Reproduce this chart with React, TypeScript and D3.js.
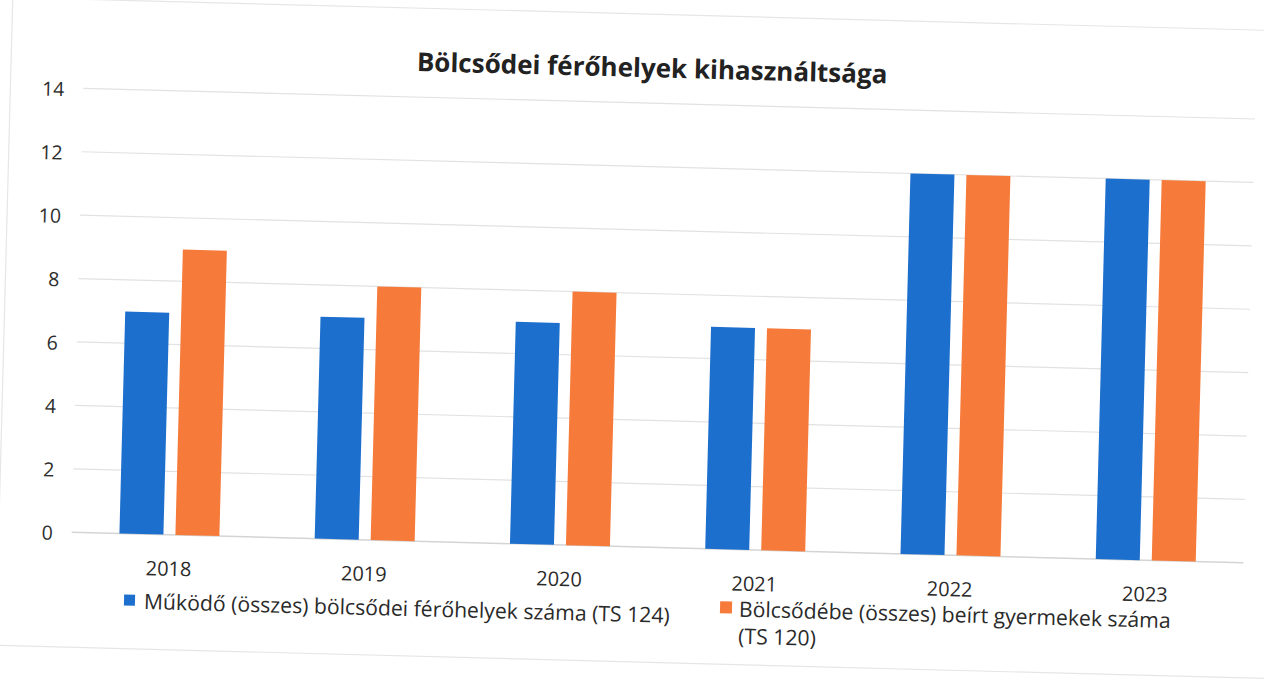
import React from 'react';
import * as d3 from 'd3';

const years = ['2018', '2019', '2020', '2021', '2022', '2023'];
const placesValues = [7, 7, 7, 7, 12, 12];
const enrolledValues = [9, 8, 8, 7, 12, 12];
const yTicks = [0, 2, 4, 6, 8, 10, 12, 14];
const seriesKeys = ['places', 'enrolled'];
const seriesNames = [
  'Működő (összes) bölcsődei férőhelyek száma (TS 124)',
  'Bölcsődébe (összes) beírt gyermekek száma',
];
const seriesNameSecondLine = ['', '(TS 120)'];
const seriesColors = ['#1c6fcd', '#f67b3b'];
const titleText = 'Bölcsődei férőhelyek kihasználtsága';

const W = 1264;
const H = 681;
const plot = { left: 77, right: 1249, top: 103, bottom: 547 };
const FONT = '"Open Sans", Lato, sans-serif';

export default function App() {
  const x0 = d3.scaleBand<string>().domain(years).range([plot.left, plot.right]).paddingInner(0).paddingOuter(0);
  const x1 = d3
    .scaleBand<string>()
    .domain(seriesKeys)
    .range([x0.bandwidth() / 2 - 50, x0.bandwidth() / 2 + 50])
    .paddingInner(0.214)
    .paddingOuter(0);
  const y = d3.scaleLinear().domain([0, 14]).range([plot.bottom, plot.top]);
  const series = [placesValues, enrolledValues];

  return (
    <svg
      width={W}
      height={H}
      viewBox={`0 0 ${W} ${H}`}
      style={{ position: 'absolute', left: 0, top: 0, display: 'block', background: '#fff' }}
    >
      <rect x={0} y={0} width={W} height={H} fill="#fff" />
      <g transform="rotate(1.5 640 340)">
        <rect x={4} y={14} width={1270} height={648} fill="none" stroke="#e6e6e6" strokeWidth={1.2} />
        <text
          x={645}
          y={77}
          textAnchor="middle"
          fontFamily={FONT}
          fontWeight={700}
          fontSize={26}
          fill="#222"
        >
          {titleText}
        </text>
        {yTicks.map((t) => (
          <g key={t}>
            <line
              x1={plot.left}
              x2={plot.right}
              y1={y(t)}
              y2={y(t)}
              stroke={t === 0 ? '#d4d4d4' : '#e2e2e2'}
              strokeWidth={t === 0 ? 1.5 : 1.2}
            />
            <text
              x={58}
              y={y(t) + 3}
              textAnchor="end"
              dominantBaseline="middle"
              fontFamily={FONT}
              fontSize={19.5}
              fill="#2e2e2e"
            >
              {t}
            </text>
          </g>
        ))}
        {years.map((yr, i) => (
          <g key={yr} transform={`translate(${x0(yr)},0)`}>
            {seriesKeys.map((k, s) => (
              <rect
                key={k}
                x={x1(k)}
                y={y(series[s][i])}
                width={x1.bandwidth()}
                height={y(0) - y(series[s][i])}
                fill={seriesColors[s]}
              />
            ))}
            <text
              x={x0.bandwidth() / 2}
              y={588}
              textAnchor="middle"
              fontFamily={FONT}
              fontSize={20}
              fill="#2a2a2a"
            >
              {yr}
            </text>
          </g>
        ))}
        {/* legend */}
        <rect x={131} y={608} width={11} height={11} fill={seriesColors[0]} />
        <text x={151} y={622} fontFamily={FONT} fontSize={21.2} fill="#2a2a2a">
          {seriesNames[0]}
        </text>
        <rect x={727} y={599} width={12} height={12} fill={seriesColors[1]} />
        <text x={746} y={614} fontFamily={FONT} fontSize={21.2} fill="#2a2a2a">
          {seriesNames[1]}
        </text>
        <text x={746} y={641} fontFamily={FONT} fontSize={21.2} fill="#2a2a2a">
          {seriesNameSecondLine[1]}
        </text>
      </g>
    </svg>
  );
}
